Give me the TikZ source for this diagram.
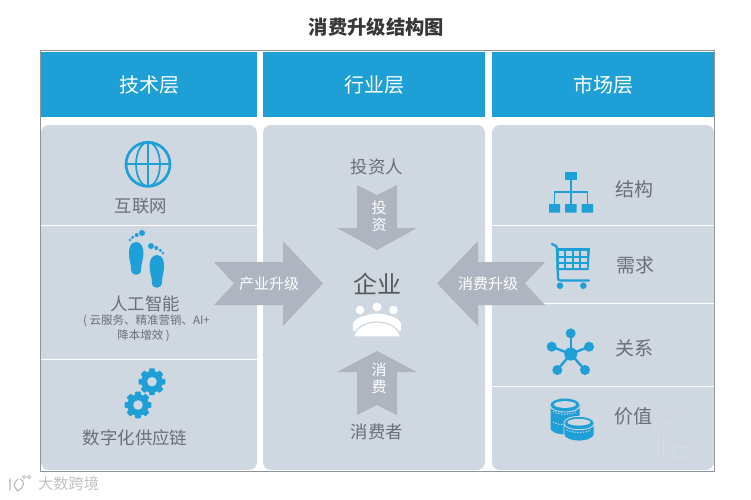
\documentclass[tikz,border=0pt]{standalone}
\usepackage{fontspec}
\setmainfont{Noto Sans CJK SC}
\usetikzlibrary{calc}
\definecolor{hdr}{HTML}{1E9FD6}
\definecolor{panel}{HTML}{CFD7E1}
\definecolor{arrowc}{HTML}{AEB5C0}
\definecolor{txt}{HTML}{6A6F77}
\definecolor{frame}{HTML}{8E9499}
\tikzset{
  x=1pt,y=-1pt,
  header/.style={fill=hdr,draw=none,minimum height=65pt,anchor=north west,inner sep=0pt,text=white,font=\fontsize{20}{20}\selectfont},
  panelbox/.style={fill=panel,draw=none,rounded corners=8pt},
  divider/.style={draw=white,line width=1pt},
  label/.style={text=txt,inner sep=0pt,font=\fontsize{17.4}{17.4}\selectfont},
  rlabel/.style={text=txt,inner sep=0pt,font=\fontsize{19}{19}\selectfont},
  small/.style={text=txt,inner sep=0pt,font=\fontsize{11.5}{11.5}\selectfont},
  arrowshape/.style={fill=arrowc,draw=none},
  arrowtext/.style={text=white,inner sep=0pt,font=\fontsize{15}{15}\selectfont},
  coindots/.style={draw=panel,line width=1pt,dash pattern=on 1.3pt off 1.5pt},
  pics/foot/.style={code={
    \fill[hdr] (0,-16) .. controls (-6,-16) and (-7.5,-9) .. (-7,-3) .. controls (-6.5,3) and (-5,6) .. (-5,11) .. controls (-5,18.5) and (5,18.5) .. (5,12) .. controls (5,6) and (7.5,1) .. (7.5,-5) .. controls (7.5,-11) and (5,-16) .. (0,-16) -- cycle;
    \fill[hdr] (6,-25) circle (3);
    \fill[hdr] (0.7,-23) circle (2);
    \fill[hdr] (-3.3,-20.7) circle (1.7);
    \fill[hdr] (-6,-18) circle (1.4);
  }},
  pics/gear/.style={code={
    \fill[hdr] (0,0) circle (10.8);
    \foreach \a in {0,45,...,315}{\fill[hdr,rotate=\a,rounded corners=1pt] (-2.9,-9) rectangle (2.9,-13.4);}
    \fill[panel] (0,0) circle (4.8);
  }},
}
\begin{document}
\begin{tikzpicture}
\useasboundingbox (0,0) rectangle (751,499);
\fill[white] (0,0) rectangle (751,499);
\node[inner sep=0pt,text=black!78,font=\fontsize{19.3}{19.3}\selectfont\bfseries] (title) at (376.5,27) {消费升级结构图};
% frame
\draw[frame,line width=1pt] (40.5,50.5) rectangle (714.5,471);
% headers
\node[header,minimum width=216pt] (h1) at (41,52) {技术层};
\node[header,minimum width=222pt] (h2) at (263,52) {行业层};
\node[header,minimum width=222pt] (h3) at (492,52) {市场层};
% panels
\fill[panelbox] (41,125) rectangle (257,470);
\fill[panelbox] (263,125) rectangle (485,470);
\fill[panelbox] (492,125) rectangle (714,470);
% dividers
\draw[divider] (41,225) -- (257,225);
\draw[divider] (41,359.3) -- (257,359.3);
\draw[divider] (492,225) -- (714,225);
\draw[divider] (492,303.4) -- (714,303.4);
\draw[divider] (492,386.2) -- (714,386.2);
% faint mark in the right panel
\begin{scope}[line width=1pt]
\draw[panel!85!white] (653,457) -- (653,432) arc (180:270:20 and 19);
\draw[panel!85!white] (658,457) -- (658,436) arc (180:270:14 and 15);
\draw[panel!85!white] (663,457) -- (663,440) arc (180:270:9 and 10);
\draw[panel!88!white] (673,457) -- (673,447) -- (690,447) -- (690,457) -- cycle;
\end{scope}
% globe
\begin{scope}[shift={(148,164.3)}]
\draw[hdr,line width=2.7pt] (0,0) circle (22);
\draw[hdr,line width=1.7pt] (0,0) ellipse (12 and 22);
\draw[hdr,line width=1.7pt] (-22,0) -- (22,0) (0,-22) -- (0,22);
\end{scope}
\node[label] (l1) at (140.8,206.5) {互联网};
% feet
\pic at (136,258) {foot};
\pic[xscale=-1] at (157,271) {foot};
\node[label] (l2) at (145,303.5) {人工智能};
\node[small] (l2a) at (146.5,321) {( 云服务、精准营销、AI+};
\node[small] (l2b) at (143.5,336) {降本增效 )};
% gears
\pic at (152,381.7) {gear};
\pic at (138,405) {gear};
\node[label] (l3) at (135,437.5) {数字化供应链};
% center column
\node[label] (inv) at (377,166.5) {投资人};
\fill[arrowshape] (357,185) -- (377,195) -- (397,185) -- (397,228) -- (417,228) -- (377,250) -- (337,228) -- (357,228) -- cycle;
\node[arrowtext] (t1) at (379,208) {投};
\node[arrowtext] (t2) at (379,225) {资};
\node[text=black!65,inner sep=0pt,font=\fontsize{24}{24}\selectfont] (ent) at (377,283.5) {企业};
% people icon
\fill[white] (360,310) circle (4.3) (377,307) circle (4.4) (393.5,310) circle (4.3);
\fill[white] (353,331) -- (353,323) .. controls (355,319) and (361,316) .. (366,315.5) .. controls (370,313) and (384,313) .. (388,315.5) .. controls (393,316) and (399,319) .. (401,323) -- (401,331) -- cycle;
\fill[white,draw=panel,line width=1.2pt] (353.5,337) .. controls (355,328) and (365,322) .. (377,322) .. controls (389,322) and (399,328) .. (400.5,337) -- cycle;
\fill[arrowshape] (377,351) -- (417,372) -- (397,372) -- (397,415) -- (377,405) -- (357,415) -- (357,372) -- (337,372) -- cycle;
\node[arrowtext] (t3) at (379,370) {消};
\node[arrowtext] (t4) at (379,386.7) {费};
\node[label] (con) at (377,431.7) {消费者};
% side arrows
\fill[arrowshape] (214,262) -- (283,262) -- (283,241) -- (323,283.5) -- (283,326) -- (283,305) -- (214,305) -- (234,283.5) -- cycle;
\node[arrowtext] (t5) at (269,284) {产业升级};
\fill[arrowshape] (545,262) -- (478,262) -- (478,241) -- (437,283.5) -- (478,326) -- (478,305) -- (545,305) -- (525,283.5) -- cycle;
\node[arrowtext] (t6) at (488,284) {消费升级};
% org icon
\begin{scope}[shift={(571,0)}]
\fill[hdr] (-6,171.7) rectangle (5.7,180);
\fill[hdr] (-22,204) rectangle (-11,212.7) (-6,204) rectangle (5.7,212.7) (10.7,204) rectangle (22,212.7);
\draw[hdr,line width=1.6pt] (0,180) -- (0,204) (-16.5,204) -- (-16.5,191.7) -- (16.5,191.7) -- (16.5,204);
\end{scope}
\node[rlabel] (r1) at (634.5,189.5) {结构};
% cart
\draw[hdr,line width=2.3pt,line cap=round,line join=round] (552,244) -- (556,246) .. controls (557,247) and (557,248) .. (557,250) -- (558,278) .. controls (558,280) and (559,280.5) .. (561,280.5) -- (589,280.5);
\fill[hdr] (556.7,248) -- (590,248) -- (588.5,270) -- (556.7,270) -- cycle;
\foreach \i in {0,1,2,3}{\foreach \j in {0,1,2}{
  \fill[panel] ({558.8+\i*7.5},{251.3+\j*6.3}) rectangle ({564.3+\i*7.5},{255.6+\j*6.3});}}
\fill[hdr] (560,285.7) circle (3.3) (583.3,285.7) circle (3.3);
\node[rlabel] (r2) at (635,265) {需求};
% network
\begin{scope}[shift={(570.7,354)}]
\foreach \x/\y in {0/-20.7, -19/-7.3, 18.3/-7.3, -13.4/16, 14.3/16}{
  \draw[hdr,line width=2.4pt] (0,0) -- (\x,\y);
  \fill[hdr] (\x,\y) circle (5);
}
\fill[hdr] (0,0) circle (6.5);
\end{scope}
\node[rlabel] (r3) at (634,348) {关系};
% coins (y axis points down, so arcs through 270 run along the top edge)
\begin{scope}[shift={(565,405)}]
\fill[hdr] (-14.5,0) arc (180:360:14.5 and 6.5) -- (14.5,23) arc (0:180:14.5 and 6.5) -- cycle;
\fill[panel] (0,-0.5) ellipse (11 and 3.4);
\draw[panel,line width=0.9pt] (-14.5,1) arc (180:0:14.5 and 6);
\draw[coindots] (-12,6.5) arc (160:20:12.5 and 4.2);
\draw[coindots] (-12,17) arc (160:20:12.5 and 4.2);
\end{scope}
\begin{scope}[shift={(579,422.7)}]
\fill[hdr,draw=panel,line width=0.9pt] (-15,0) arc (180:360:15 and 6.3) -- (15,12) arc (0:180:15 and 6.3) -- cycle;
\fill[panel] (0,-0.5) ellipse (11.5 and 3.4);
\draw[panel,line width=0.9pt] (-15,1) arc (180:0:15 and 6);
\draw[coindots] (-12.5,7) arc (160:20:13 and 4.2);
\end{scope}
\node[rlabel] (r4) at (633.5,416.5) {价值};
% watermark
\begin{scope}[black!28,line width=1.1pt,line cap=round]
\draw (10,479) -- (10,490) (18,479) .. controls (13,484) and (13,486) .. (18,491);
\draw (20,479) .. controls (25,480) and (25,488) .. (17,491);
\draw[line width=0.7pt] (24,477) circle (1.7) (29,477) circle (1.7);
\end{scope}
\node[text=black!24,inner sep=0pt,anchor=west,font=\fontsize{15.2}{15.2}\selectfont] (wm) at (38,484) {大数跨境};
\end{tikzpicture}
\end{document}
